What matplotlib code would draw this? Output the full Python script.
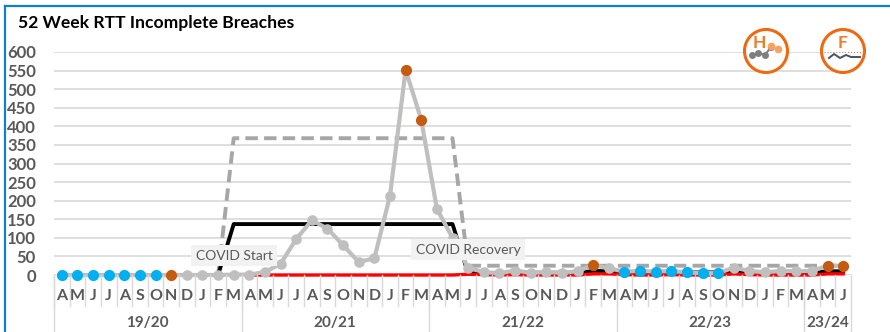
import matplotlib

matplotlib.use('Agg')
import matplotlib.pyplot as plt
from matplotlib.patches import Circle, Rectangle

plt.rcParams['font.family'] = ['Lato', 'DejaVu Sans']

W, H = 890, 332

months = list('AMJJASONDJFM' * 4) + list('AMJ')
years = ['19/20', '20/21', '21/22', '22/23', '23/24']
year_len = [12, 12, 12, 12, 3]
yticks = list(range(0, 601, 50))

breaches = [0, 0, 0, 0, 0, 0, 0, 0, 0, 0, 0, 1, 1, 8, 30, 97, 147, 125, 80, 35,
            45, 213, 552, 418, 178, 100, 19, 8, 5, 12, 6, 8, 6, 10, 27, 18,
            9, 11, 9, 11, 7, 5, 5, 20, 11, 7, 11, 10, 11, 25, 25]
mean = [None] * 10 + [0] + [137] * 15 + [5, 5, 5, 6, 6, 6, 6, 5, 11, 10,
                                          5, 7, 7, 7, 7, 7, 7, 8, 5, 5, 5, 5, 5, 10, 10]
upper = [None] * 10 + [0] + [368] * 15 + [25] * 25
lower = [None] * 12 + [0] * 14 + [2, 1, 0, 1, 0, 0, 0, 0, 3, 3,
                                   1, 0, 0, 1, 0, 0, 0, 3, 1, 0, 0, 0, 0, 3, 3]

blue_idx = [0, 1, 2, 3, 4, 5, 6, 36, 37, 38, 39, 40, 41, 42]
orange_idx = [7, 22, 23, 34, 49, 50]

GREY = '#BFBFBF'
TXT = '#595959'
BLUE = '#00B0F0'
ORANGE = '#C55A11'

fig = plt.figure(figsize=(W / 100, H / 100), dpi=100, facecolor='white')
ax = fig.add_axes([54 / W, 1 - 275 / H, (851 - 54) / W, (275 - 52) / H])
x = list(range(len(months)))

ax.set_xlim(-0.5, len(months) - 0.5)
ax.set_ylim(0, 600)
ax.set_yticks(yticks)
ax.set_xticks([])
ax.grid(axis='y', color='#D9D9D9', lw=1.2)
ax.set_axisbelow(True)
ax.tick_params(axis='y', length=0, pad=13, labelsize=12, labelcolor=TXT)
for lab in ax.get_yticklabels():
    lab.set_fontweight('bold')
for s in ax.spines.values():
    s.set_visible(False)

ax.plot(x, upper, color='#A6A6A6', lw=2.8, ls=(0, (3.2, 1.6)), clip_on=False)
ax.plot(x, mean, color='black', lw=2.8, solid_joinstyle='round', clip_on=False)
ax.plot(x, lower, color='#FF0000', lw=2.4, clip_on=False)
ax.plot(x, breaches, color=GREY, lw=3, marker='o', ms=6.6, mec=GREY, mfc=GREY, clip_on=False)
ax.plot(blue_idx, [breaches[i] for i in blue_idx], ls='', marker='o', ms=7, color=BLUE, clip_on=False)
ax.plot(orange_idx, [breaches[i] for i in orange_idx], ls='', marker='o', ms=7, color=ORANGE, clip_on=False)

# multi level category axis, drawn in pixel space below the plot
px = fig.add_axes([0, 0, 1, 1], facecolor='none')
px.set_xlim(0, W)
px.set_ylim(H, 0)
px.axis('off')
step = (851 - 54) / len(months)
for i, m in enumerate(months):
    px.plot([54 + i * step] * 2, [275, 306], color='#D9D9D9', lw=1)
    px.text(54 + (i + 0.5) * step, 296, m, ha='center', va='center', fontsize=11.5,
            fontweight='bold', color=TXT)
pos = 0
for y, n in zip(years, year_len):
    px.plot([54 + pos * step] * 2, [275, H], color='#D9D9D9', lw=1)
    px.text(54 + (pos + n / 2) * step, 322.5, y, ha='center', va='center', fontsize=11,
            fontweight='bold', color=TXT)
    pos += n
px.plot([851, 851], [275, H], color='#D9D9D9', lw=1)

# frame and title
px.plot([5, 5], [6, H], color='#0F7FCF', lw=1.6)
px.plot([5, W], [6, 6], color='#0F7FCF', lw=1.6)
px.text(18, 23, '52 Week RTT Incomplete Breaches', ha='left', va='center',
        fontsize=12.6, fontweight='bold', color='black')

# annotation boxes
px.add_patch(Rectangle((191, 245), 86, 21, fc='#F2F2F2', ec='none', zorder=5))
px.text(234, 256, 'COVID Start', ha='center', va='center', fontsize=10, color=TXT, zorder=6)
px.add_patch(Rectangle((411, 239), 114, 21, fc='#F2F2F2', ec='none', zorder=5))
px.text(468, 250, 'COVID Recovery', ha='center', va='center', fontsize=10, color=TXT, zorder=6)

# H and F icons
for cx, cy in [(766, 51), (843, 51)]:
    px.add_patch(Circle((cx, cy), 21.5, fc='white', ec='#ED6A12', lw=2.2, zorder=7))
px.text(759, 43, 'H', ha='center', va='center', fontsize=12.5, fontweight='bold', color='#ED7D31', zorder=8)
px.text(843, 43, 'F', ha='center', va='center', fontsize=12.5, fontweight='bold', color='#ED7D31', zorder=8)
px.plot([752, 758, 765, 771], [55, 53, 55, 47], color='#7F7F7F', lw=1.5, marker='o', ms=4, zorder=8)
px.plot([771, 778], [46, 49], color='#F4A460', lw=1.5, marker='o', ms=4.5, zorder=8)
px.plot([824, 864], [52, 52], color='#ED7D31', lw=0.8, ls=':', zorder=8)
px.plot([829, 834, 840, 846, 851, 860], [58, 54, 58, 55, 57, 57], color='#44546A', lw=1.4, zorder=8)

fig.savefig('out.png', dpi=100)
